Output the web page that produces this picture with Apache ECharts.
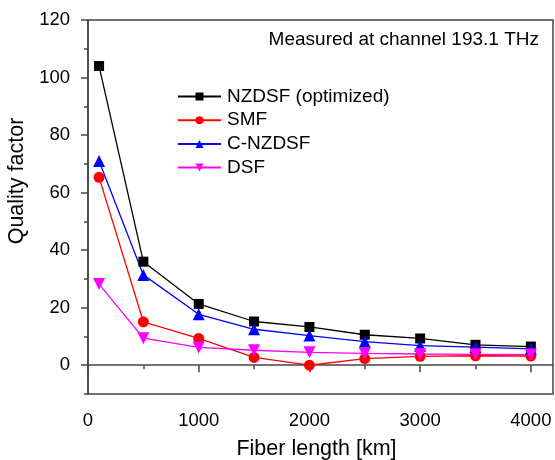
<!DOCTYPE html>
<html>
<head>
<meta charset="utf-8">
<script src="https://cdn.jsdelivr.net/npm/echarts@6/dist/echarts.min.js"></script>
<style>
  html, body { margin: 0; padding: 0; background: #fff; }
  #chart { width: 555px; height: 460px; }
</style>
</head>
<body>
<div id="chart"></div>
<script>
// fiber lengths in km
const lengths = [100, 500, 1000, 1500, 2000, 2500, 3000, 3500, 4000]
const nzdsfOpt = [104, 36, 21.3, 15.2, 13.3, 10.6, 9.3, 7.1, 6.5]
const smf = [65.3, 15.1, 9.3, 2.7, 0, 2.3, 3.1, 3.3, 3.2]
const cNzdsf = [71, 31.4, 17.7, 12.5, 10.3, 8.2, 6.8, 6.3, 5.7]
const dsf = [28.2, 9.4, 6.2, 5.2, 4.5, 4.1, 3.9, 3.8, 3.7]

const xMajor = [0, 1000, 2000, 3000, 4000]
const xMinor = [500, 1500, 2500, 3500]
const yMajor = [0, 20, 40, 60, 80, 100, 120]
const yMinor = [-10, 10, 30, 50, 70, 90, 110]

const font = 'Liberation Sans, Arial, sans-serif'
const axisColor = '#444'

function pairs (vals) {
  return lengths.map((x, i) => [x, vals[i]])
}

function mkSeries (name, vals, color, symbol, size) {
  return {
    name: name,
    type: 'line',
    data: pairs(vals),
    symbol: symbol,
    symbolSize: size,
    color: color,
    lineStyle: { color: color, width: 1.3 },
    itemStyle: { color: color },
    emphasis: { disabled: true }
  }
}

const chart = echarts.init(document.getElementById('chart'))

const option = {
  animation: false,
  backgroundColor: '#fff',
  grid: {
    left: 88, right: 2, top: 20, bottom: 66,
    outerBoundsMode: 'none',
    show: true, borderColor: axisColor, borderWidth: 1.5
  },
  legend: {
    left: 172, top: 82,
    orient: 'vertical',
    itemWidth: 43, itemHeight: 10, itemGap: 4.7,
    textStyle: { fontFamily: font, fontSize: 19, color: '#000', lineHeight: 18, padding: [0, 0, 0, 1] },
    data: ['NZDSF (optimized)', 'SMF', 'C-NZDSF', 'DSF']
  },
  graphic: [{
    type: 'text',
    right: 16, top: 30,
    style: { text: 'Measured at channel 193.1 THz', font: '19px ' + font, fill: '#000' }
  }, {
    // y axis title sits above the axis centre in the reference
    type: 'text',
    x: 17, y: 181, rotation: Math.PI / 2,
    style: { text: 'Quality factor', font: '21.5px ' + font, fill: '#000', align: 'center', verticalAlign: 'middle' }
  }],
  xAxis: [{
    type: 'value', min: 0, max: 4200,
    name: 'Fiber length [km]', nameLocation: 'middle', nameGap: 44,
    nameTextStyle: { fontFamily: font, fontSize: 21.5, color: '#000', padding: [0, 8, 0, 0] },
    axisLine: { show: true, lineStyle: { color: axisColor, width: 1.5 } },
    axisTick: { show: true, length: 7, customValues: xMajor, lineStyle: { color: axisColor, width: 1.5 } },
    axisLabel: { customValues: xMajor, margin: 17, fontFamily: font, fontSize: 18.5, color: '#000',
      formatter: v => String(v) },
    splitLine: { show: false }
  }, {
    type: 'value', min: 0, max: 4200, position: 'bottom',
    axisLine: { show: false },
    axisTick: { show: true, length: 4, customValues: xMinor, lineStyle: { color: axisColor, width: 1.5 } },
    axisLabel: { show: false },
    splitLine: { show: false }
  }],
  yAxis: [{
    type: 'value', min: -10, max: 120,
    axisLine: { show: true, lineStyle: { color: axisColor, width: 1.5 } },
    axisTick: { show: true, length: 7, customValues: yMajor, lineStyle: { color: axisColor, width: 1.5 } },
    axisLabel: { customValues: yMajor, margin: 18, fontFamily: font, fontSize: 18.5, color: '#000',
      formatter: v => String(v) },
    splitLine: { show: false }
  }, {
    type: 'value', min: -10, max: 120, position: 'left',
    axisLine: { show: false },
    axisTick: { show: true, length: 4, customValues: yMinor, lineStyle: { color: axisColor, width: 1.5 } },
    axisLabel: { show: false },
    splitLine: { show: false }
  }],
  series: [
    mkSeries('NZDSF (optimized)', nzdsfOpt, '#000000', 'rect', 10),
    mkSeries('SMF', smf, '#ff0000', 'circle', 11),
    mkSeries('C-NZDSF', cNzdsf, '#0000ff', 'triangle', 12),
    mkSeries('DSF', dsf, '#ff00ff', 'path://M0,0 L10,0 L5,10 Z', 12)
  ]
}

chart.setOption(option)
</script>
</body>
</html>
